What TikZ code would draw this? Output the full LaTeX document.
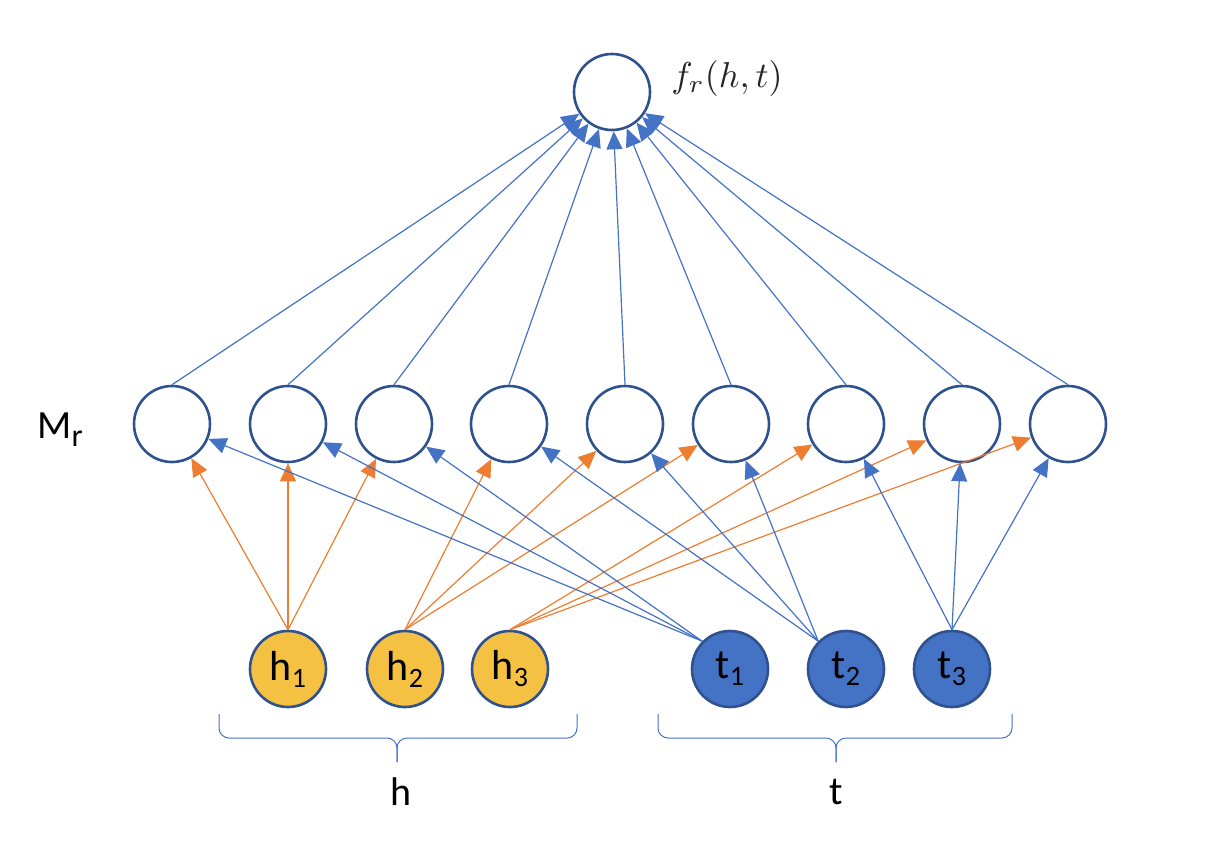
\documentclass[tikz,border=0pt]{standalone}
\usepackage{amsmath}
\usepackage{fontspec}
\newfontfamily\calibri{Carlito}
\usepackage{tikz}
\usetikzlibrary{automata, arrows.meta, positioning}

\definecolor{rimblue}{HTML}{2F528F}
\definecolor{linkblue}{HTML}{4472C4}
\definecolor{linkorange}{HTML}{ED7D31}
\definecolor{headgold}{HTML}{F5C143}

% lowered index, as in the slide
\newcommand{\lowidx}[2]{\raisebox{-#2}{\fontsize{14}{16}\selectfont #1}}

\begin{document}
\begin{tikzpicture}[x=0.5pt,y=-0.5pt,>={Triangle[length=9pt,width=8pt]},
        every state/.style={draw=rimblue,fill=white,line width=1.3pt,minimum size=38pt,inner sep=0pt,
                            font=\calibri\fontsize{21}{24}\selectfont},
        head/.style={fill=headgold},
        tail/.style={fill=linkblue},
        link/.style={color=linkblue,line width=0.6pt},
        hlink/.style={color=linkorange,line width=0.6pt},
        curly/.style={draw=linkblue,line width=0.5pt,rounded corners=5},
        caption/.style={font=\calibri\fontsize{20}{24}\selectfont}]
    \useasboundingbox (0,0) rectangle (1232,842);

      % output
      \node[state]        (f)  at (612,92)  {};
      \node[text=black!85] (flabel) at (727,78) {\scalebox{1.8}{\(f_r(h,t)\)}};

      % hidden layer
      \node[state]        (m1) at (172,424)  {};
      \node[state]        (m2) at (288,424)  {};
      \node[state]        (m3) at (394,424)  {};
      \node[state]        (m4) at (509,424)  {};
      \node[state]        (m5) at (625,424)  {};
      \node[state]        (m6) at (731,424)  {};
      \node[state]        (m7) at (846,424)  {};
      \node[state]        (m8) at (962,424)  {};
      \node[state]        (m9) at (1068,424) {};
      \node[caption]      (mr) at (60,430)   {M{\fontsize{16}{18}\selectfont\raisebox{-4pt}{r}}};

      % inputs
      \node[state,head]   (h1) at (288,669)  {h\lowidx{1}{3.5pt}};
      \node[state,head]   (h2) at (405,669)  {h\lowidx{2}{3.5pt}};
      \node[state,head]   (h3) at (510,669)  {h\lowidx{3}{3.5pt}};
      \node[state,tail]   (t1) at (730,669)  {t\lowidx{1}{3.5pt}};
      \node[state,tail]   (t2) at (846,669)  {t\lowidx{2}{3.5pt}};
      \node[state,tail]   (t3) at (952,669)  {t\lowidx{3}{3.5pt}};

      \path[->,link] (m1.north) edge (f)
                     (m2.north) edge (f)
                     (m3.north) edge (f)
                     (m4.north) edge (f)
                     (m5.north) edge (f)
                     (m6.north) edge (f)
                     (m7.north) edge (f)
                     (m8.north) edge (f)
                     (m9.north) edge (f);

      \path[->,hlink] (h1.north) edge (m1) edge (m2) edge (m3)
                      (h2.north) edge (m4) edge (m5) edge (m6)
                      (h3.north) edge (m7) edge (m8) edge (m9);

      \path[->,link] (t1.north west) edge (m1) edge (m2) edge (m3)
                     (t2.north west) edge (m4) edge (m5) edge (m6)
                     (t3.north) edge (m7) edge (m8) edge (m9);

      % braces
      \draw[curly] (219,714) -- (219,738) -- (397,738) -- (397,762);
      \draw[curly] (577,714) -- (577,738) -- (397,738) -- (397,762);
      \draw[curly] (658,714) -- (658,738) -- (836,738) -- (836,762);
      \draw[curly] (1012,714) -- (1012,738) -- (836,738) -- (836,762);
      \node[caption] (hcap) at (401,792) {h};
      \node[caption] (tcap) at (836,792) {t};
    \end{tikzpicture}
\end{document}
